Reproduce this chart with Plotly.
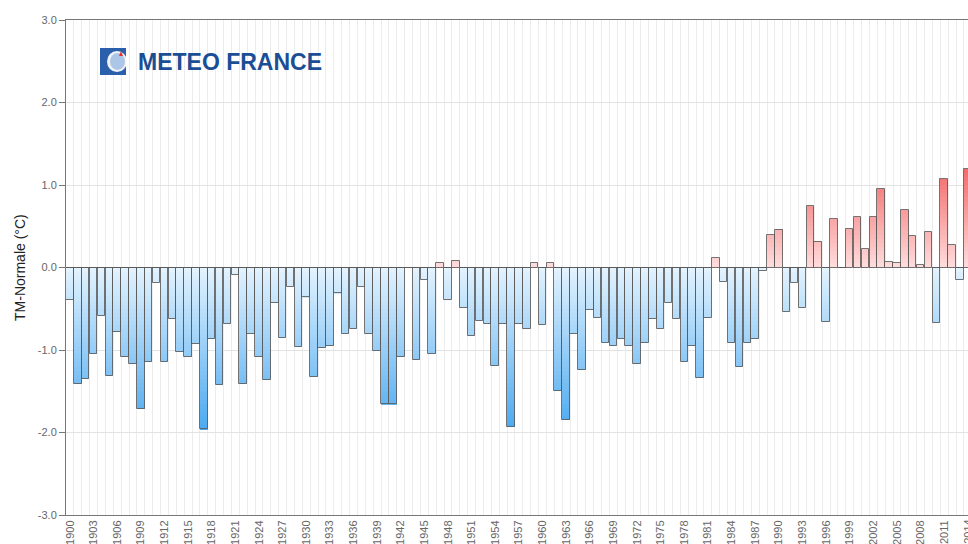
import plotly.graph_objects as go

years = list(range(1900, 2015))
anomalies = [
    -0.39, -1.41, -1.35, -1.05, -0.59, -1.31, -0.78, -1.08, -1.17, -1.71,   # 1900-1909
    -1.15, -0.19, -1.15, -0.63, -1.03, -1.09, -0.93, -1.96, -0.87, -1.43,   # 1910-1919
    -0.69, -0.09, -1.41, -0.80, -1.09, -1.36, -0.43, -0.85, -0.24, -0.96,   # 1920-1929
    -0.36, -1.33, -0.98, -0.95, -0.31, -0.80, -0.75, -0.24, -0.80, -1.01,   # 1930-1939
    -1.66, -1.66, -1.09, 0.00, -1.12, -0.15, -1.05, 0.05, -0.39, 0.08,      # 1940-1949
    -0.49, -0.83, -0.65, -0.68, -1.19, -0.68, -1.93, -0.68, -0.75, 0.05,    # 1950-1959
    -0.70, 0.05, -1.50, -1.85, -0.80, -1.24, -0.51, -0.61, -0.92, -0.95,    # 1960-1969
    -0.87, -0.95, -1.17, -0.91, -0.63, -0.75, -0.43, -0.63, -1.15, -0.95,   # 1970-1979
    -1.34, -0.61, 0.11, -0.17, -0.91, -1.20, -0.91, -0.87, -0.04, 0.40,     # 1980-1989
    0.46, -0.54, -0.19, -0.49, 0.75, 0.31, -0.66, 0.59, 0.00, 0.47,         # 1990-1999
    0.61, 0.22, 0.61, 0.95, 0.07, 0.05, 0.70, 0.38, 0.03, 0.43,             # 2000-2009
    -0.67, 1.07, 0.27, -0.15, 1.19,                                         # 2010-2014
]
tick_years = years[::3]
tick_labels = [str(y) for y in tick_years]
y_ticks = [-3, -2, -1, 0, 1, 2, 3]
y_title = "TM-Normale (°C)"
logo_text = "METEO FRANCE"

# gradient colours (absolute along value axis)
BLUE0, BLUE1 = (228, 243, 254), (72, 168, 240)   # at 0, at -2
RED0, RED1 = (255, 220, 220), (243, 106, 106)    # at 0, at +1.2


def lerp(c0, c1, t):
    t = max(0.0, min(1.0, t))
    return "rgb(%d,%d,%d)" % tuple(round(a + (b - a) * t) for a, b in zip(c0, c1))


def band_color(mid):
    if mid < 0:
        return lerp(BLUE0, BLUE1, -mid / 2.0)
    return lerp(RED0, RED1, mid / 1.2)


BAR_W = 0.96
STEP = 0.05
fig = go.Figure()
nb = int(max(abs(v) for v in anomalies) / STEP) + 2
for k in range(nb):
    xs, bs, ys, cs = [], [], [], []
    lo = k * STEP
    for yr, v in zip(years, anomalies):
        a = abs(v)
        if a > lo:
            s = 1 if v > 0 else -1
            h = min(STEP, a - lo)
            xs.append(yr)
            bs.append(s * lo)
            ys.append(s * h)
            cs.append(band_color(s * (lo + h / 2)))
    if xs:
        fig.add_trace(go.Bar(x=xs, y=ys, base=bs, width=BAR_W,
                             marker=dict(color=cs, line=dict(width=0)),
                             hoverinfo="skip", showlegend=False))

# outlines
fig.add_trace(go.Bar(x=years, y=anomalies, base=0, width=BAR_W,
                     marker=dict(color="rgba(0,0,0,0)",
                                 line=dict(color="rgba(90,90,90,0.85)", width=1)),
                     hoverinfo="skip", showlegend=False))

L, R, T, B = 66, 0, 20, 29
W, H = 968, 544
pw, ph = W - L - R, H - T - B


def px(xp):
    return (xp - L) / pw


def py(yp):
    return (H - B - yp) / ph


shapes = [
    dict(type="rect", xref="paper", yref="paper", x0=px(100), x1=px(126), y0=py(75), y1=py(48),
         fillcolor="#2a5fab", line=dict(width=0), layer="above"),
    dict(type="circle", xref="paper", yref="paper", x0=px(107), x1=px(127), y0=py(72), y1=py(51),
         fillcolor="rgba(255,255,255,0.92)", line=dict(width=0), layer="above"),
    dict(type="circle", xref="paper", yref="paper", x0=px(110), x1=px(125), y0=py(70), y1=py(53),
         fillcolor="rgba(120,160,215,0.55)", line=dict(width=0), layer="above"),
    dict(type="path", xref="paper", yref="paper",
         path="M %f %f L %f %f L %f %f Z" % (px(119), py(56), px(123), py(56), px(121), py(51)),
         fillcolor="#e8312f", line=dict(width=0), layer="above"),
]

# last tick label (plotly drops labels crossing the figure edge)
last_label = dict(text=tick_labels[-1], xref="x", yref="paper", x=tick_years[-1], y=0,
                  yshift=-3, textangle=-90, showarrow=False, xanchor="center", yanchor="top",
                  font=dict(size=11, color="#666"))

fig.update_layout(
    width=W, height=H,
    margin=dict(l=L, r=R, t=T, b=B, pad=0),
    paper_bgcolor="white", plot_bgcolor="white",
    barmode="overlay", bargap=0,
    font=dict(family="Liberation Sans, Arial, sans-serif", color="#666"),
    xaxis=dict(
        range=[1899.5, 2014.02],
        tickmode="array", tickvals=tick_years[:-1], ticktext=tick_labels[:-1],
        tickangle=-90, tickfont=dict(size=11, color="#666"),
        showgrid=False, zeroline=False, ticks="",
        showline=True, linecolor="#777", linewidth=1, mirror=True,
        automargin=False,
        minor=dict(tickmode="linear", tick0=1899.5, dtick=1, showgrid=True,
                   gridcolor="#ececec", gridwidth=1, ticks=""),
    ),
    yaxis=dict(
        range=[-3, 3], tickmode="array", tickvals=y_ticks,
        ticktext=["%.1f" % v for v in y_ticks],
        tickfont=dict(size=11, color="#666"),
        showgrid=True, gridcolor="#e2e2e2", gridwidth=1,
        showline=True, linecolor="#777", linewidth=1,
        ticks="outside", ticklen=6, tickcolor="#777",
        zeroline=True, zerolinecolor="#666", zerolinewidth=1,
        automargin=False,
    ),
    shapes=shapes,
    annotations=[
        dict(text=y_title, xref="paper", yref="paper", x=px(20), y=py(268),
             textangle=-90, showarrow=False, xanchor="center", yanchor="middle",
             font=dict(size=14, color="#222")),
        dict(text="<b>%s</b>" % logo_text, xref="paper", yref="paper", x=px(136), y=py(62),
             showarrow=False, xanchor="left", yanchor="middle",
             font=dict(size=23, color="#1b4e94")),
        last_label,
    ],
)

fig.write_html("out.html", config={"displayModeBar": False},
               post_script="document.body.style.margin='0px';document.body.style.overflow='hidden';")
